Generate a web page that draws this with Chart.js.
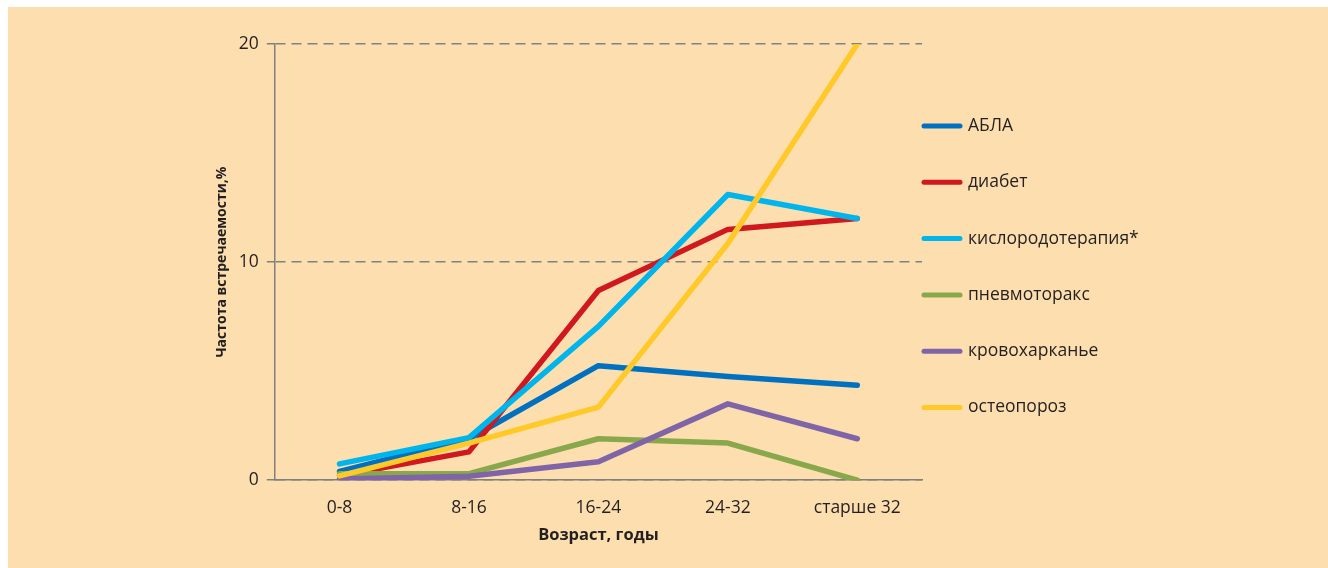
<!DOCTYPE html>
<html>
<head>
<meta charset="utf-8">
<script src="https://cdn.jsdelivr.net/npm/chart.js@4"></script>
<style>
  html, body { margin: 0; padding: 0; background: #ffffff; }
  #wrap { position: absolute; left: 8px; top: 7px; width: 1320px; height: 561px; background: #fddfaf; }
</style>
</head>
<body>
<div id="wrap"><canvas id="chart" width="1320" height="561"></canvas></div>
<script>
//age groups on the x axis
var ageGroups = ['0-8', '8-16', '16-24', '24-32', 'старше 32'];
//series, percent per age group
var seriesNames = ['АБЛА', 'диабет', 'кислородотерапия*', 'пневмоторакс', 'кровохарканье', 'остеопороз'];
var abla = [0.4, 1.9, 5.25, 4.75, 4.35];
var diabetes = [0.2, 1.3, 8.7, 11.5, 12.0];
var oxygen = [0.75, 1.95, 7.05, 13.1, 12.0];
var pneumothorax = [0.3, 0.3, 1.9, 1.7, 0.0];
var hemoptysis = [0.05, 0.18, 0.85, 3.5, 1.9];
var osteoporosis = [0.2, 1.7, 3.35, 10.85, 20.0];
var yTicks = [0, 10, 20];
var seriesColors = ['#0070c0', '#d0181f', '#00b5ec', '#89a84c', '#8064a8', '#ffc92a'];

var textColor = '#231f20';
var axisColor = '#808080';
var fontFamily = '"Open Sans", "Noto Sans", sans-serif';

function buildDatasets() {
    var values = [abla, diabetes, oxygen, pneumothorax, hemoptysis, osteoporosis];
    return values.map(function (v, i) {
        return {
            label: seriesNames[i],
            data: v,
            borderColor: seriesColors[i],
            backgroundColor: seriesColors[i],
            borderWidth: 5.5,
            borderCapStyle: 'round',
            borderJoinStyle: 'round',
            pointRadius: 0,
            tension: 0,
            order: values.length - i   //later series on top
        };
    });
}

//legend drawn to the right of the plot, one line sample per series
var sideLegend = {
    id: 'sideLegend',
    afterDraw: function (chart) {
        var ctx = chart.ctx;
        var area = chart.chartArea;
        var x0 = area.right;
        var y0 = area.top + 82;
        ctx.save();
        ctx.font = '17.5px ' + fontFamily;
        ctx.textBaseline = 'middle';
        ctx.textAlign = 'left';
        chart.data.datasets.forEach(function (ds, i) {
            var y = y0 + i * 56.3;
            ctx.strokeStyle = ds.borderColor;
            ctx.lineWidth = 5;
            ctx.lineCap = 'round';
            ctx.beginPath();
            ctx.moveTo(x0 + 2, y);
            ctx.lineTo(x0 + 38, y);
            ctx.stroke();
            ctx.fillStyle = textColor;
            ctx.fillText(ds.label, x0 + 46, y);
        });
        ctx.restore();
    }
};

new Chart(document.getElementById('chart'), {
    type: 'line',
    data: { labels: ageGroups, datasets: buildDatasets() },
    options: {
        responsive: false,
        animation: false,
        layout: { padding: { left: 206, right: 406, top: 37, bottom: 23 } },
        plugins: {
            legend: { display: false },
            tooltip: { enabled: false }
        },
        scales: {
            x: {
                offset: true,
                grid: { display: false, drawTicks: false },
                border: { display: true, color: axisColor, width: 1.5 },
                ticks: { color: textColor, font: { family: fontFamily, size: 17.5 }, padding: 17 },
                title: {
                    display: true,
                    text: 'Возраст, годы',
                    color: textColor,
                    font: { family: fontFamily, size: 16.5, weight: 'bold' },
                    padding: { top: -10, bottom: 0 }
                }
            },
            y: {
                min: 0,
                max: 20,
                afterBuildTicks: function (scale) {
                    scale.ticks = yTicks.map(function (v) { return { value: v }; });
                },
                grid: {
                    color: axisColor,
                    lineWidth: 1.5,
                    tickBorderDash: [],
                    tickColor: axisColor,
                    tickLength: 8
                },
                border: { display: true, color: axisColor, width: 1.5, dash: [10, 6] },
                ticks: { color: textColor, font: { family: fontFamily, size: 17.5 }, padding: 8 },
                title: {
                    display: true,
                    text: 'Частота встречаемости,%',
                    color: textColor,
                    font: { family: fontFamily, size: 14, weight: 'bold' },
                    padding: { top: 0, bottom: 0 }
                }
            }
        }
    },
    plugins: [sideLegend]
});
</script>
</body>
</html>
